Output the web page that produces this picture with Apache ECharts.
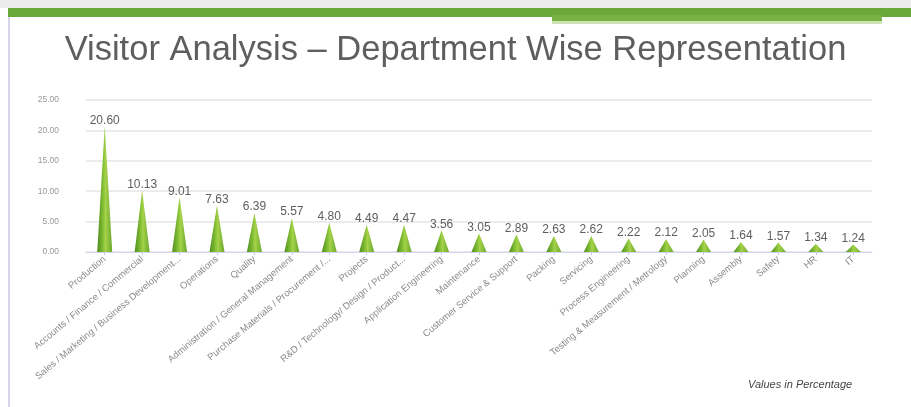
<!DOCTYPE html>
<html>
<head>
<meta charset="utf-8">
<script src="https://cdn.jsdelivr.net/npm/echarts@6/dist/echarts.min.js"></script>
<style>
html,body{margin:0;padding:0;background:#fff;}
#c{width:911px;height:407px;}
</style>
</head>
<body>
<div id="c"></div>
<script>
var categories = [
  'Production',
  'Accounts / Finance / Commercial',
  'Sales / Marketing / Business Development...',
  'Operations',
  'Quality',
  'Administration / General Management',
  'Purchase Materials / Procurement /...',
  'Projects',
  'R&D / Technology/ Design / Product...',
  'Application Engineering',
  'Maintenance',
  'Customer Service & Support',
  'Packing',
  'Servicing',
  'Process Engineering',
  'Testing & Measurement / Metrology',
  'Planning',
  'Assembly',
  'Safety',
  'HR',
  'IT'
];
var values = [20.60, 10.13, 9.01, 7.63, 6.39, 5.57, 4.80, 4.49, 4.47, 3.56, 3.05, 2.89, 2.63, 2.62, 2.22, 2.12, 2.05, 1.64, 1.57, 1.34, 1.24];
var yTicks = [0, 5, 10, 15, 20, 25];

var chart = echarts.init(document.getElementById('c'));
var spike = 'path://M0,100 C25,90 45,40 50,0 C55,40 75,90 100,100 Z';
spike = 'path://M0,100 L50,0 L100,100 Z';
var option = {
  backgroundColor: '#ffffff',
  animation: false,
  title: {
    text: 'Visitor Analysis \u2013 Department Wise Representation',
    left: 'center',
    top: 28,
    textStyle: {fontFamily: 'Liberation Sans, Arial, sans-serif', fontSize: 34.5, fontWeight: 'normal', color: '#5e5e5e'}
  },
  graphic: [
    {type: 'rect', left: 0, top: 0, shape: {width: 911, height: 8}, style: {fill: '#ececec'}, z: 0},
    {type: 'rect', left: 8, top: 8, shape: {width: 903, height: 9}, style: {fill: '#6aa83a'}, z: 1},
    {type: 'rect', left: 552, top: 15, shape: {width: 330, height: 6}, style: {fill: '#78b146'}, z: 1},
    {type: 'rect', left: 552, top: 21, shape: {width: 330, height: 3}, style: {fill: '#cfe3b4'}, z: 1},
    {type: 'rect', left: 8, top: 17, shape: {width: 2, height: 390}, style: {fill: '#d6d6ea'}, z: 1},
    {type: 'text', left: 748, top: 379, style: {text: 'Values in Percentage', font: 'italic 11px Liberation Sans, Arial, sans-serif', fill: '#444'}}
  ],
  grid: {left: 86, right: 39, top: 100, bottom: 155},
  xAxis: {
    type: 'category',
    data: categories,
    axisLine: {show: true, lineStyle: {color: '#d4d4f0', width: 1}},
    axisTick: {show: true, alignWithLabel: true, length: 3, lineStyle: {color: '#c8c8ee'}},
    axisLabel: {rotate: 40, interval: 0, fontSize: 9.5, color: '#8a8a8a', fontFamily: 'Liberation Sans, Arial, sans-serif', margin: 6}
  },
  yAxis: {
    type: 'value',
    min: yTicks[0],
    max: yTicks[yTicks.length - 1],
    interval: 5,
    axisLine: {show: false},
    axisTick: {show: false},
    axisLabel: {fontSize: 8.5, color: '#999', margin: 27, formatter: function (v) { return v.toFixed(2); }},
    splitLine: {lineStyle: {color: '#ececec', width: 2}}
  },
  series: [{
    type: 'pictorialBar',
    data: values,
    symbol: spike,
    symbolSize: [15, '100%'],
    itemStyle: {
      color: new echarts.graphic.LinearGradient(0, 0, 1, 0, [
        {offset: 0, color: '#4e8c1c'},
        {offset: 0.45, color: '#8cc63a'},
        {offset: 0.55, color: '#a6d24a'},
        {offset: 1, color: '#6aa82a'}
      ])
    },
    label: {
      show: true,
      position: 'top',
      distance: 0,
      fontSize: 12,
      color: '#5e5e5e',
      fontFamily: 'Liberation Sans, Arial, sans-serif',
      formatter: function (p) { return p.value.toFixed(2); }
    }
  }]
};
chart.setOption(option);
</script>
</body>
</html>
